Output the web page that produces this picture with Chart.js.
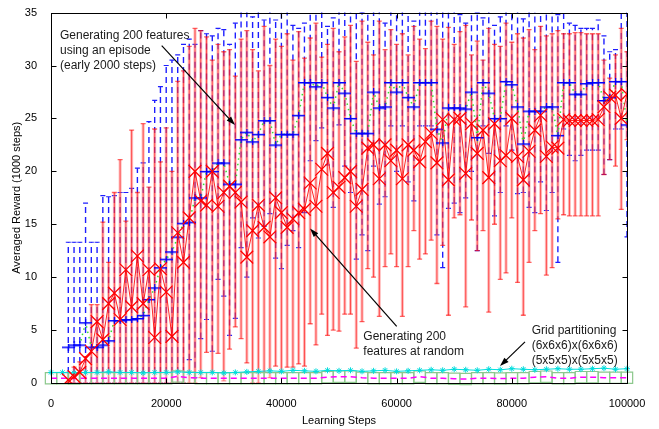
<!DOCTYPE html>
<html>
<head>
<meta charset="utf-8">
<script src="https://cdn.jsdelivr.net/npm/chart.js@4.4.1/dist/chart.umd.min.js"></script>
<style>
html, body { margin: 0; padding: 0; background: #fff; }
canvas { display: block; }
</style>
</head>
<body>
<canvas id="grafico" width="659" height="429"></canvas>
<script>
(()=>{
// learning steps, in thousands
const pasosK = [3,4,5,6,7,8,9,10,11,12,
  13,14,15,16,17,18,19,20,21,22,
  23,24,25,26,27,28,29,30,31,32,
  33,34,35,36,37,38,39,40,41,42,
  43,44,45,46,47,48,49,50,51,52,
  53,54,55,56,57,58,59,60,61,62,
  63,64,65,66,67,68,69,70,71,72,
  73,74,75,76,77,78,79,80,81,82,
  83,84,85,86,87,88,89,90,91,92,
  93,94,95,96,97,98,99,100];

// red: 200 features at random
const rojoMedia = [0.3,0.6,1.0,2.3,3.0,5.8,4.1,7.5,8.5,6.0,
  10.7,7.2,12.0,7.5,10.7,4.3,10.8,8.6,4.4,14.2,
  11.4,15.6,20.0,17.2,16.8,20.0,16.7,18.0,18.6,18.0,
  17.1,11.9,14.4,16.8,14.7,13.8,17.5,16.1,14.7,15.5,
  16.1,16.4,18.9,16.7,20.2,21.7,18.0,18.5,19.4,20.0,
  16.7,18.3,22.2,22.5,19.3,22.5,21.0,22.0,19.3,22.5,
  22.0,20.9,22.8,23.6,20.8,24.9,19.2,24.9,25.0,19.8,
  24.5,21.7,23.9,19.4,24.5,21.0,21.5,25.0,21.4,19.2,
  21.9,23.9,25.3,21.4,22.3,22.2,24.9,24.8,24.8,24.8,
  24.8,24.8,24.9,26.1,27.0,27.2,25.0,27.3];
const rojoAlto = [1.0,1.5,2.0,2.5,7.4,7.4,15.2,11.4,18.0,21.1,
  15.3,23.9,18.0,24.5,18.5,24.0,20.9,24.1,20.0,28.5,
  29.5,31.8,33.5,33.3,32.7,30.5,32.0,31.3,31.5,29.0,
  32.5,33.3,31.5,29.5,33.7,30.0,32.5,31.8,33.0,30.5,
  33.2,30.7,32.6,34.0,30.8,32.0,33.5,31.3,32.7,33.8,
  30.4,34.2,32.2,31.0,34.2,31.5,33.4,32.0,33.0,31.0,
  33.7,32.5,31.6,34.2,33.7,32.5,33.6,32.0,33.2,33.8,
  31.0,32.3,30.5,33.5,32.0,31.8,34.0,32.2,33.0,32.6,
  33.4,31.5,33.7,32.8,33.0,33.3,33.0,33.0,33.1,33.1,
  33.0,33.0,33.0,30.5,28.8,31.0,33.5,31.3];
const rojoBajo = [0,0,0,0,0,0,0,0,0,0,
  0,0,0,0,0,0,0,0,0,0,
  0,0,0,0.5,2.9,1.0,2.8,0.2,3.2,5.3,
  4.2,1.9,0,0,1.0,0.5,1.6,1.0,1.5,1.5,
  1.8,1.6,5.6,3.6,6.5,4.5,5.0,4.9,6.5,6.5,
  3.3,5.8,10.8,10.0,6.3,11.0,12.2,11.0,6.3,11.0,
  14.4,11.7,12.2,13.5,9.4,13.0,6.4,15.6,15.9,7.2,
  15.4,12.5,14.4,6.7,15.0,9.8,10.4,15.6,9.5,6.4,
  11.4,14.4,16.0,10.2,10.9,15.5,15.9,15.8,15.8,15.8,
  15.8,15.8,15.8,19.7,21.1,20.5,16.4,23.0];

// blue: 200 features using an episode
const azulMedia = [3.4,3.6,3.6,5.7,3.4,3.4,3.6,4.0,5.9,5.9,
  6.0,6.0,6.1,6.4,7.9,9.0,10.9,11.7,12.4,13.8,
  15.1,15.2,17.5,17.5,20.0,20.0,20.8,20.8,18.8,18.8,
  23.0,23.7,22.8,23.5,24.8,24.8,22.5,23.5,23.5,23.5,
  25.3,28.4,28.4,28.0,28.4,27.0,26.0,28.4,27.4,25.0,
  23.6,23.6,23.6,27.5,26.0,26.1,28.4,27.5,28.4,27.0,
  26.1,28.4,28.4,28.4,24.0,22.7,26.0,26.0,26.0,25.9,
  27.5,23.2,28.4,27.4,25.0,25.0,28.5,28.2,26.1,22.6,
  25.7,25.7,25.7,26.1,26.1,23.4,28.4,28.4,27.3,27.3,
  28.3,28.4,28.4,26.7,27.0,28.5,28.5,24.4];
const azulAlto = [13.3,13.3,13.3,17.0,13.3,13.3,17.7,17.6,17.7,18.0,
  18.0,18.4,20.3,20.8,24.7,26.7,28.0,30.0,30.5,31.0,
  32.0,32.5,32.0,33.3,33.0,32.8,33.5,33.4,32.0,34.0,
  35.5,35.8,34.6,35.5,34.3,36.0,34.3,36.5,35.5,33.8,
  33.5,34.0,35.5,37.0,36.0,33.7,34.5,36.5,35.5,35.8,
  37.0,35.0,36.5,37.5,35.6,34.0,36.5,35.5,38.0,36.0,
  34.2,37.5,38.0,38.0,35.5,36.0,37.0,37.5,34.8,34.0,
  36.0,35.0,34.5,36.5,33.8,34.6,38.0,37.0,36.0,34.4,
  38.0,38.0,38.0,37.0,36.0,34.8,35.5,34.0,33.8,33.5,
  33.5,33.5,34.3,32.8,31.3,31.5,35.5,36.0];
const azulBajo = [0,0,0,0,0,0,0,0,0,0,
  0,0,0,0,0,0,0,0,0,0,
  0,2.2,0.5,4.2,6.0,3.0,9.8,8.2,4.5,6.1,
  12.8,10.0,15.6,13.7,14.8,16.0,11.8,10.8,13.0,14.4,
  12.8,16.1,21.0,22.9,24.1,20.6,16.6,24.4,20.5,18.0,
  11.7,14.0,12.5,20.5,16.9,17.6,24.3,20.0,24.3,19.0,
  17.2,24.3,24.3,24.3,14.0,10.9,16.5,17.0,16.1,17.5,
  20.0,12.5,24.3,21.7,15.8,18.0,24.3,22.0,17.9,18.0,
  16.6,16.1,19.0,16.3,18.0,11.4,24.0,21.5,21.0,21.5,
  22.0,22.0,22.0,19.7,21.1,24.0,24.0,13.8];

// grid partitioning, every 2000 steps (in thousands)
const rejillaPasosK = [0,2,4,6,8,10,12,14,16,18,
  20,22,24,26,28,30,32,34,36,38,
  40,42,44,46,48,50,52,54,56,58,
  60,62,64,66,68,70,72,74,76,78,
  80,82,84,86,88,90,92,94,96,98,100];
const rejillaMedia = [0.45,0.45,0.42,0.45,0.45,0.44,0.45,0.45,0.46,0.45,
  0.45,0.62,0.5,0.45,0.45,0.44,0.45,0.45,0.45,0.44,
  0.45,0.45,0.45,0.45,0.55,0.6,0.6,0.5,0.45,0.45,
  0.45,0.45,0.6,0.45,0.45,0.4,0.38,0.45,0.45,0.42,
  0.45,0.45,0.55,0.6,0.45,0.45,0.55,0.55,0.5,0.5,0.5];
const cianMedia = [1.0,1.0,0.95,1.0,1.0,1.05,1.0,1.0,0.95,1.0,
  1.0,1.05,1.0,1.0,1.0,0.95,1.0,1.05,1.1,1.15,
  1.1,1.2,1.15,1.1,1.2,1.15,1.2,1.1,1.15,1.2,
  1.1,1.15,1.2,1.25,1.2,1.3,1.25,1.2,1.3,1.25,
  1.35,1.3,1.25,1.3,1.35,1.3,1.3,1.35,1.4,1.3,1.35];

const ticksX = [0, 20000, 40000, 60000, 80000, 100000];
const ticksY = [0, 5, 10, 15, 20, 25, 30, 35];

const pasos = pasosK.map(k => k * 1000);
const rejillaPasos = rejillaPasosK.map(k => k * 1000);
const puntos = (xs, ys) => xs.map((v, i) => ({x: v, y: ys[i]}));

const fuente = '"Liberation Sans", Arial, Helvetica, sans-serif';

// blue "+" marker, wide horizontal stroke
const marcaAzul = document.createElement('canvas');
marcaAzul.width = 13; marcaAzul.height = 7;
const mc = marcaAzul.getContext('2d');
mc.fillStyle = '#0000ff';
mc.fillRect(0, 3, 13, 1.5);
mc.fillRect(6, 0, 1.2, 7);

// error bars through the scales
const barrasError = {
    id: 'barrasError',
    beforeDatasetsDraw(chart) {
        const {ctx, chartArea: a, scales: {x, y}} = chart;
        ctx.save();
        ctx.beginPath();
        ctx.rect(a.left, a.top, a.width, a.height + 1);
        ctx.clip();
        pasos.forEach((p, i) => {
            const px = x.getPixelForValue(p);
            const y1 = y.getPixelForValue(azulBajo[i]);
            const y2 = y.getPixelForValue(azulAlto[i]);
            ctx.strokeStyle = '#1e1eff';
            ctx.lineWidth = 1.4;
            ctx.setLineDash([6, 4]);
            ctx.beginPath(); ctx.moveTo(px, y1); ctx.lineTo(px, y2); ctx.stroke();
            ctx.setLineDash([]);
            ctx.lineWidth = 1.2;
            ctx.beginPath();
            ctx.moveTo(px - 2.5, y1); ctx.lineTo(px + 2.5, y1);
            ctx.moveTo(px - 2.5, y2); ctx.lineTo(px + 2.5, y2);
            ctx.stroke();
        });
        pasos.forEach((p, i) => {
            const px = x.getPixelForValue(p);
            const y1 = y.getPixelForValue(rojoBajo[i]);
            const y2 = y.getPixelForValue(rojoAlto[i]);
            ctx.strokeStyle = 'rgba(255,120,120,0.5)';
            ctx.lineWidth = 3;
            ctx.beginPath(); ctx.moveTo(px, y1); ctx.lineTo(px, y2); ctx.stroke();
            ctx.strokeStyle = 'rgba(255,0,0,0.6)';
            ctx.lineWidth = 1;
            ctx.beginPath(); ctx.moveTo(px, y1); ctx.lineTo(px, y2); ctx.stroke();
            ctx.lineWidth = 1.3;
            ctx.beginPath();
            ctx.moveTo(px - 2.5, y1); ctx.lineTo(px + 2.5, y1);
            ctx.moveTo(px - 2.5, y2); ctx.lineTo(px + 2.5, y2);
            ctx.stroke();
        });
        ctx.restore();
    }
};

// box with inward ticks, matlab style
const marco = {
    id: 'marco',
    afterDatasetsDraw(chart) {
        const {ctx, chartArea: a, scales: {x, y}} = chart;
        const l = Math.round(a.left) + 0.5, r = Math.round(a.right) + 0.5;
        const t = Math.round(a.top) + 0.5, b = Math.round(a.bottom) + 0.5;
        ctx.save();
        ctx.strokeStyle = '#000';
        ctx.lineWidth = 1;
        ctx.strokeRect(l, t, r - l, b - t);
        ctx.beginPath();
        ticksX.forEach(v => {
            const px = Math.round(x.getPixelForValue(v)) + 0.5;
            ctx.moveTo(px, b); ctx.lineTo(px, b - 5);
            ctx.moveTo(px, t); ctx.lineTo(px, t + 5);
        });
        ticksY.forEach(v => {
            const py = Math.round(y.getPixelForValue(v)) + 0.5;
            ctx.moveTo(l, py); ctx.lineTo(l + 5, py);
            ctx.moveTo(r, py); ctx.lineTo(r - 5, py);
        });
        ctx.stroke();
        ctx.restore();
    }
};

// text notes with arrows, anchored in data units
const notas = [
    {lineas: ['Generating 200 features', 'using an episode', '(early 2000 steps)'], x: 1560, y: 32.84, desde: [19220, 31.88], hasta: [31940, 24.37]},
    {lineas: ['Generating 200', 'features at random'], x: 54220, y: 4.34, desde: [60020, 5.35], hasta: [44970, 14.61]},
    {lineas: ['Grid partitioning', '(6x6x6)x(6x6x6)', '(5x5x5)x(5x5x5)'], x: 83450, y: 4.97, desde: [82290, 3.88], hasta: [77950, 1.6]}
];
const anotaciones = {
    id: 'anotaciones',
    afterDraw(chart) {
        const {ctx, scales: {x, y}} = chart;
        ctx.save();
        ctx.font = '12px ' + fuente;
        ctx.textBaseline = 'middle';
        ctx.textAlign = 'left';
        notas.forEach(n => {
            const px = x.getPixelForValue(n.x);
            const py = y.getPixelForValue(n.y);
            ctx.fillStyle = '#1a1a1a';
            n.lineas.forEach((s, i) => ctx.fillText(s, px, py + i * 15));
            const x1 = x.getPixelForValue(n.desde[0]), y1 = y.getPixelForValue(n.desde[1]);
            const x2 = x.getPixelForValue(n.hasta[0]), y2 = y.getPixelForValue(n.hasta[1]);
            const ang = Math.atan2(y2 - y1, x2 - x1);
            ctx.strokeStyle = '#000';
            ctx.lineWidth = 1.2;
            ctx.beginPath(); ctx.moveTo(x1, y1);
            ctx.lineTo(x2 - 6 * Math.cos(ang), y2 - 6 * Math.sin(ang));
            ctx.stroke();
            ctx.fillStyle = '#000';
            ctx.beginPath();
            ctx.moveTo(x2, y2);
            ctx.lineTo(x2 - 9 * Math.cos(ang) + 3 * Math.sin(ang), y2 - 9 * Math.sin(ang) - 3 * Math.cos(ang));
            ctx.lineTo(x2 - 9 * Math.cos(ang) - 3 * Math.sin(ang), y2 - 9 * Math.sin(ang) + 3 * Math.cos(ang));
            ctx.closePath();
            ctx.fill();
        });
        ctx.restore();
    }
};

new Chart(document.getElementById('grafico'), {
    type: 'line',
    data: {
        datasets: [
            {
                label: 'Generating 200 features at random',
                data: puntos(pasos, rojoMedia),
                borderColor: 'rgba(255,0,0,0.85)',
                borderWidth: 1,
                pointStyle: 'crossRot',
                pointRadius: 9,
                pointBorderColor: '#ff0000',
                pointBorderWidth: 1.3,
                tension: 0
            },
            {
                label: 'Generating 200 features using an episode',
                data: puntos(pasos, azulMedia),
                borderColor: '#33dd33',
                borderWidth: 1.5,
                borderDash: [1.5, 4],
                pointStyle: marcaAzul,
                pointRadius: 6,
                tension: 0
            },
            {
                label: 'Grid (5x5x5)x(5x5x5)',
                data: puntos(rejillaPasos, cianMedia),
                borderColor: '#00e0e0',
                borderWidth: 1,
                pointStyle: 'star',
                pointRadius: 3,
                pointBorderColor: '#00dcdc',
                pointBorderWidth: 1,
                clip: false,
                tension: 0
            },
            {
                label: 'Grid (6x6x6)x(6x6x6)',
                data: puntos(rejillaPasos, rejillaMedia),
                borderColor: '#ff00ff',
                borderWidth: 1.5,
                borderDash: [6, 4],
                pointRadius: 0,
                tension: 0
            },
            {
                label: 'Grid squares',
                data: puntos(rejillaPasos, rejillaMedia),
                showLine: false,
                pointStyle: 'rect',
                pointRadius: 8,
                pointBorderColor: '#8cc88c',
                pointBackgroundColor: 'rgba(255,255,255,0.35)',
                pointBorderWidth: 1.2,
                clip: false
            }
        ]
    },
    options: {
        responsive: false,
        animation: false,
        devicePixelRatio: 1,
        layout: { padding: { top: 10, right: 32, left: 0, bottom: 0 } },
        plugins: { legend: { display: false }, tooltip: { enabled: false } },
        scales: {
            x: {
                type: 'linear',
                min: 0,
                max: 100000,
                afterFit: s => { s.height = 46; },
                afterBuildTicks: s => { s.ticks = ticksX.map(v => ({value: v})); },
                grid: { display: false },
                border: { display: false },
                ticks: {
                    callback: v => String(v),
                    color: '#000',
                    font: { family: fuente, size: 11 },
                    padding: 6,
                    maxRotation: 0,
                    autoSkip: false
                },
                title: {
                    display: true,
                    text: 'Learning Steps',
                    color: '#000',
                    font: { family: fuente, size: 11 },
                    padding: { top: 0, bottom: 1 }
                }
            },
            y: {
                min: 0,
                max: 35,
                afterFit: s => { s.width = 51; },
                afterBuildTicks: s => { s.ticks = ticksY.map(v => ({value: v})); },
                grid: { display: false },
                border: { display: false },
                ticks: {
                    color: '#000',
                    font: { family: fuente, size: 11 },
                    padding: 6
                },
                title: {
                    display: true,
                    text: 'Averaged Reward (1000 steps)',
                    color: '#000',
                    font: { family: fuente, size: 11 },
                    padding: { top: 10, bottom: 0 }
                }
            }
        }
    },
    plugins: [barrasError, marco, anotaciones]
});
})();
</script>
</body>
</html>
